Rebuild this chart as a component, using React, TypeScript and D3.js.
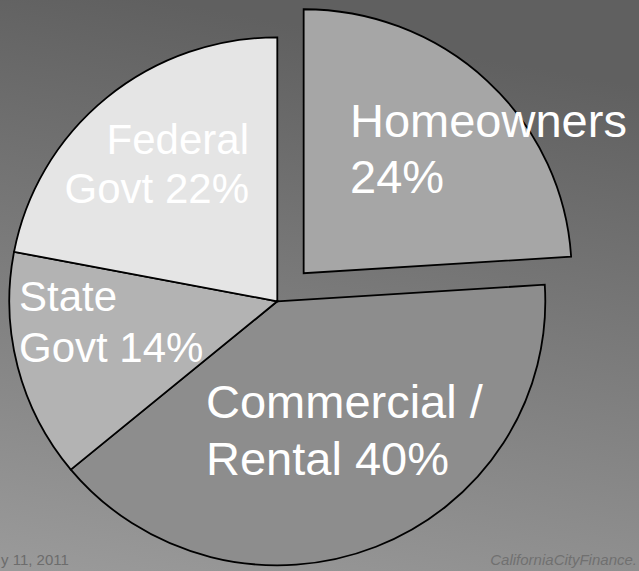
import React from "react";
import * as d3 from "d3";

const categories = ["Homeowners", "Commercial / Rental", "State Govt", "Federal Govt"];
const shares = [24, 40, 14, 22];
const labelLines = [
  ["Homeowners", "24%"],
  ["Commercial /", "Rental 40%"],
  ["State", "Govt 14%"],
  ["Federal", "Govt 22%"],
];
const footerLeft = "y 11, 2011";
const footerRight = "CaliforniaCityFinance.";

const W = 639;
const H = 571;
const CX = 277.3;
const CY = 301.3;
const R = 264;
const SX = 268 / 264;
const EXPLODE = 38.5;
const fills = ["#a6a6a6", "#8d8d8d", "#b3b3b3", "#e5e5e5"];
const labelLayout = [
  { x: 350, y: 137, anchor: "start", size: 47, lh: 56 },
  { x: 206, y: 418, anchor: "start", size: 47, lh: 57 },
  { x: 19, y: 311, anchor: "start", size: 42, lh: 51 },
  { x: 249, y: 154, anchor: "end", size: 42, lh: 49 },
];

export default function App() {
  const data = categories.map((c, i) => ({ name: c, value: shares[i], i }));
  const pie = d3
    .pie<any>()
    .sort(null)
    .value((d) => d.value)
    .startAngle(0)
    .endAngle(2 * Math.PI);
  const arcs = pie(data);
  const arc = d3.arc<any>().innerRadius(0).outerRadius(R);

  return (
    <svg
      width={W}
      height={H}
      style={{ position: "fixed", left: 0, top: 0, display: "block" }}
      fontFamily="'Liberation Sans', Arial, sans-serif"
    >
      <defs>
        <linearGradient id="bg" x1="0.25" y1="0" x2="0.05" y2="1">
          <stop offset="0" stopColor="#606060" />
          <stop offset="1" stopColor="#9a9a9a" />
        </linearGradient>
      </defs>
      <rect x={0} y={0} width={W} height={H} fill="url(#bg)" />
      {arcs.map((a, i) => {
        const mid = (a.startAngle + a.endAngle) / 2;
        const off = i === 0 ? EXPLODE : 0;
        const dx = Math.sin(mid) * off;
        const dy = -Math.cos(mid) * off;
        return (
          <path
            key={i}
            d={arc(a) as string}
            transform={`translate(${CX + dx},${CY + dy}) scale(${SX},1)`}
            fill={fills[i]}
            stroke="#000"
            strokeWidth={1.8}
            strokeLinejoin="miter"
            vectorEffect="non-scaling-stroke"
          />
        );
      })}
      {labelLines.map((lines, i) => {
        const L = labelLayout[i];
        return (
          <text
            key={i}
            fill="#ffffff"
            fontSize={L.size}
            textAnchor={L.anchor as any}
          >
            {lines.map((ln, j) => (
              <tspan key={j} x={L.x} y={L.y + j * L.lh}>
                {ln}
              </tspan>
            ))}
          </text>
        );
      })}
      <text x={1} y={565} fontSize={15} fill="#6c6c6c">
        {footerLeft}
      </text>
      <text x={637} y={565} fontSize={15} fill="#707070" fontStyle="italic" textAnchor="end">
        {footerRight}
      </text>
    </svg>
  );
}
